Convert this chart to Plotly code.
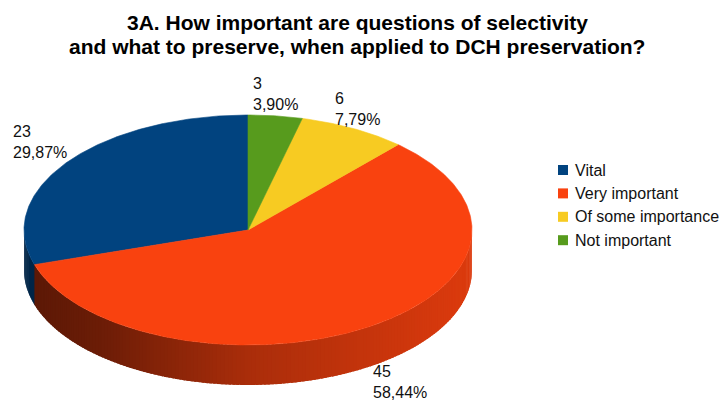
import numpy as np
import plotly.graph_objects as go

# ---- data -------------------------------------------------------------
categories = ["Vital", "Very important", "Of some importance", "Not important"]
counts = [23, 45, 6, 3]
colors = ["#01437f", "#f9420f", "#f7cb22", "#579b1d"]

title_lines = [
    "3A. How important are questions of selectivity",
    "and what to preserve, when applied to DCH preservation?",
]

# ---- geometry / style --------------------------------------------------
W, H = 723, 403
CX, CY, RX, RY, DEPTH = 248, 230, 224, 115, 40
START = 90.0                       # first slice starts at 12 o'clock, runs counter-clockwise
FONT = "Liberation Sans, Arial, sans-serif"
side_gain = [1.55, 1.0, 1.0, 1.0]  # how bright each slice's wall appears
label_offsets = [(-27, -20), (31, 15), (4, -20), (0, -22)]

total = sum(counts)
fracs = np.array(counts) / total
bounds = START + 360.0 * np.concatenate([[0.0], np.cumsum(fracs)])


def rim(theta_deg):
    t = np.radians(theta_deg)
    return CX + RX * np.cos(t), CY - RY * np.sin(t)


def owner(theta):
    a = theta if theta >= START else theta + 360.0
    for i in range(len(counts)):
        if bounds[i] <= a < bounds[i + 1]:
            return i
    return len(counts) - 1


def hex_rgb(h):
    h = h.lstrip("#")
    return [int(h[k:k + 2], 16) for k in (0, 2, 4)]


def shade(base, f):
    r, g, b = [min(255, int(round(c * f))) for c in hex_rgb(base)]
    return f"rgb({r},{g},{b})"


fig = go.Figure()
shapes = []

# ---- visible wall of the disc (front half), shaded dark on the left, light on the right
edges = set(np.arange(180.0, 360.01, 1.0).tolist())
for b in bounds:
    bm = b % 360.0
    if 180.0 < bm < 360.0:
        edges.add(float(bm))
edges = sorted(edges)
for a0, a1 in zip(edges[:-1], edges[1:]):
    i = owner(0.5 * (a0 + a1))
    x0, y0 = rim(a0)
    a1e = min(a1 + 0.7, 360.0)          # small overlap hides seams between strips
    x1, y1 = rim(a1e)
    t = ((x0 + x1) / 2 - (CX - RX)) / (2 * RX)
    f = np.interp(t, [0.0, 0.17, 0.5, 0.96, 1.0], [0.36, 0.43, 0.68, 0.87, 0.88]) * side_gain[i]
    col = shade(colors[i], f)
    path = f"M{x0},{y0} L{x1},{y1} L{x1},{y1 + DEPTH} L{x0},{y0 + DEPTH} Z"
    shapes.append(dict(type="path", path=path, xref="x", yref="y", layer="below",
                       fillcolor=col, line=dict(width=0)))

# ---- top face slices
for i, name in enumerate(categories):
    th = np.linspace(bounds[i], bounds[i + 1], max(3, int((bounds[i + 1] - bounds[i]) * 2)))
    xs, ys = rim(th)
    fig.add_trace(go.Scatter(
        x=np.concatenate([[CX], xs, [CX]]), y=np.concatenate([[CY], ys, [CY]]),
        fill="toself", fillcolor=colors[i], mode="lines",
        line=dict(color=colors[i], width=0.6), name=name, showlegend=False,
        hoverinfo="text", text=f"{name}: {counts[i]}",
    ))

# ---- value labels
annotations = []
for i, name in enumerate(categories):
    mid = 0.5 * (bounds[i] + bounds[i + 1])
    px, py = rim(mid)
    if np.sin(np.radians(mid)) < 0:
        py += DEPTH
    dx, dy = label_offsets[i]
    pct = f"{100 * counts[i] / total:.2f}".replace(".", ",")
    annotations.append(dict(
        x=px + dx, y=py + dy, xref="x", yref="y", showarrow=False,
        text=f"{counts[i]}<br>{pct}%", align="left",
        xanchor="center", yanchor="middle",
        font=dict(family=FONT, size=16, color="#111111"),
    ))

# ---- legend
LEG_X, LEG_Y0, LEG_DY, SQ = 558, 170, 23.4, 10
for i, name in enumerate(categories):
    yc = LEG_Y0 + i * LEG_DY
    shapes.append(dict(type="rect", xref="x", yref="y",
                       x0=LEG_X, x1=LEG_X + SQ, y0=yc - SQ / 2, y1=yc + SQ / 2,
                       fillcolor=colors[i], line=dict(width=0)))
    annotations.append(dict(
        x=LEG_X + SQ + 5, y=yc, xref="x", yref="y", showarrow=False,
        text=name, xanchor="left", yanchor="middle",
        font=dict(family=FONT, size=16, color="#111111"),
    ))

# ---- two-line title
for k, line in enumerate(title_lines):
    annotations.append(dict(
        x=357, y=22 + 24 * k, xref="x", yref="y", showarrow=False,
        text=f"<b>{line}</b>", xanchor="center", yanchor="middle",
        font=dict(family=FONT, size=21, color="#000000"),
    ))

fig.update_layout(
    width=W, height=H, autosize=False,
    margin=dict(l=0, r=0, t=0, b=0),
    paper_bgcolor="white", plot_bgcolor="white",
    xaxis=dict(range=[0, W], visible=False, fixedrange=True),
    yaxis=dict(range=[H, 0], visible=False, fixedrange=True),
    shapes=shapes, annotations=annotations, showlegend=False,
)

fig.write_html("out.html")
